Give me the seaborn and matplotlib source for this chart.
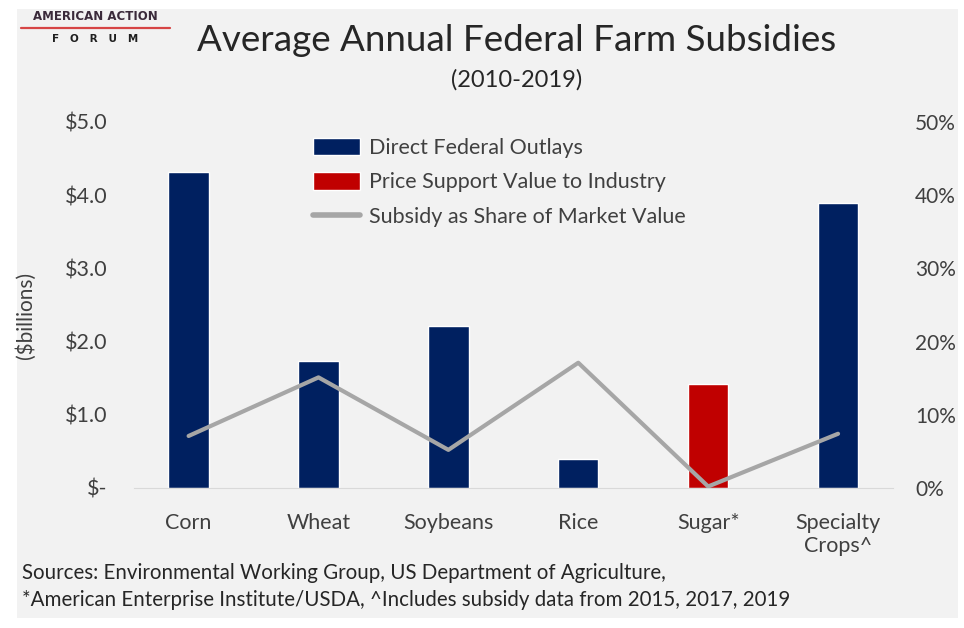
import matplotlib
matplotlib.use("Agg")
import matplotlib.pyplot as plt
from matplotlib.patches import Patch, Rectangle
from matplotlib.lines import Line2D
import numpy as np
import pandas as pd
import seaborn as sns

# data
crops = ["Corn", "Wheat", "Soybeans", "Rice", "Sugar*", "Specialty\nCrops^"]
outlays = [4.31, 1.74, 2.21, 0.39, 1.42, 3.89]  # $ billions
kind = ["Direct Federal Outlays"] * 4 + ["Price Support Value to Industry"] + ["Direct Federal Outlays"]
share = [7.1, 15.1, 5.2, 17.1, 0.2, 7.4]  # % of market value

left_ticks = [0, 1, 2, 3, 4, 5]
left_labels = ["$-", "$1.0", "$2.0", "$3.0", "$4.0", "$5.0"]
right_ticks = [0, 10, 20, 30, 40, 50]
right_labels = ["0%", "10%", "20%", "30%", "40%", "50%"]

navy = "#002060"
red = "#C00000"
grey = "#A6A6A6"
txt = "#404040"
bg = "#F2F2F2"

sns.set_style("white")
plt.rcParams["font.family"] = ["Lato", "DejaVu Sans"]

df = pd.DataFrame({"crop": crops, "outlay": outlays, "kind": kind})

fig = plt.figure(figsize=(9.64, 6.28), dpi=100)
fig.patch.set_facecolor("white")
fig.patches.append(Rectangle((0.018, 0.016), 0.976, 0.97, transform=fig.transFigure,
                             facecolor=bg, edgecolor="none", zorder=-10))

ax = fig.add_axes([0.139, 0.223, 0.787, 0.583])
ax.set_facecolor("none")
sns.barplot(data=df, x="crop", y="outlay", hue="kind", dodge=False, width=0.31,
            palette={"Direct Federal Outlays": navy, "Price Support Value to Industry": red},
            ax=ax, legend=False, saturation=1)
ax.set_ylim(0, 5)
ax.set_yticks(left_ticks)
ax.set_yticklabels(left_labels)
ax.set_xlabel("")
ax.set_ylabel("($billions)", fontsize=15, color=txt)
ax.yaxis.set_label_coords(-0.13, 0.47)
for s in ["top", "left", "right"]:
    ax.spines[s].set_visible(False)
ax.spines["bottom"].set_color("#D9D9D9")
ax.tick_params(axis="both", length=0, labelsize=15.5, colors=txt)
ax.tick_params(axis="y", pad=19)
ax.tick_params(axis="x", pad=18)

ax2 = ax.twinx()
sns.lineplot(x=crops, y=share, ax=ax2, color=grey, linewidth=3, sort=False)
ax2.set_ylim(0, 50)
ax2.set_yticks(right_ticks)
ax2.set_yticklabels(right_labels)
ax2.set_ylabel("")
for s in ["top", "left", "right", "bottom"]:
    ax2.spines[s].set_visible(False)
ax2.tick_params(axis="y", length=0, labelsize=15, colors=txt, pad=16)

handles = [Patch(facecolor=navy), Patch(facecolor=red), Line2D([], [], color=grey, linewidth=4)]
labels = ["Direct Federal Outlays", "Price Support Value to Industry", "Subsidy as Share of Market Value"]
leg = ax2.legend(handles, labels, loc="upper left", bbox_to_anchor=(0.21, 1.01), frameon=False,
                 fontsize=15.5, handlelength=2.2, handleheight=0.9, labelspacing=0.66, handletextpad=0.4)
for t in leg.get_texts():
    t.set_color(txt)

fig.text(0.536, 0.935, "Average Annual Federal Farm Subsidies", ha="center", va="center",
         fontsize=26.5, color="#262626")
fig.text(0.536, 0.873, "(2010-2019)", ha="center", va="center", fontsize=17, color="#262626")

# logo
fig.text(0.099, 0.973, "AMERICAN ACTION", ha="center", va="center", fontsize=8.5,
         fontweight="bold", color="#3A2A3A", family="DejaVu Sans")
fig.lines.append(Line2D([0.022, 0.176], [0.955, 0.955], transform=fig.transFigure,
                        color="#D64545", linewidth=1.6))
fig.text(0.099, 0.938, "F   O   R   U   M", ha="center", va="center", fontsize=7.5,
         fontweight="bold", color="#1F1F1F", family="DejaVu Sans")

fig.text(0.023, 0.088, "Sources: Environmental Working Group, US Department of Agriculture,",
         ha="left", va="center", fontsize=14.8, color="#262626")
fig.text(0.023, 0.044, "*American Enterprise Institute/USDA, ^Includes subsidy data from 2015, 2017, 2019",
         ha="left", va="center", fontsize=14.8, color="#262626")

fig.savefig("out.png", dpi=100, facecolor=fig.get_facecolor())
